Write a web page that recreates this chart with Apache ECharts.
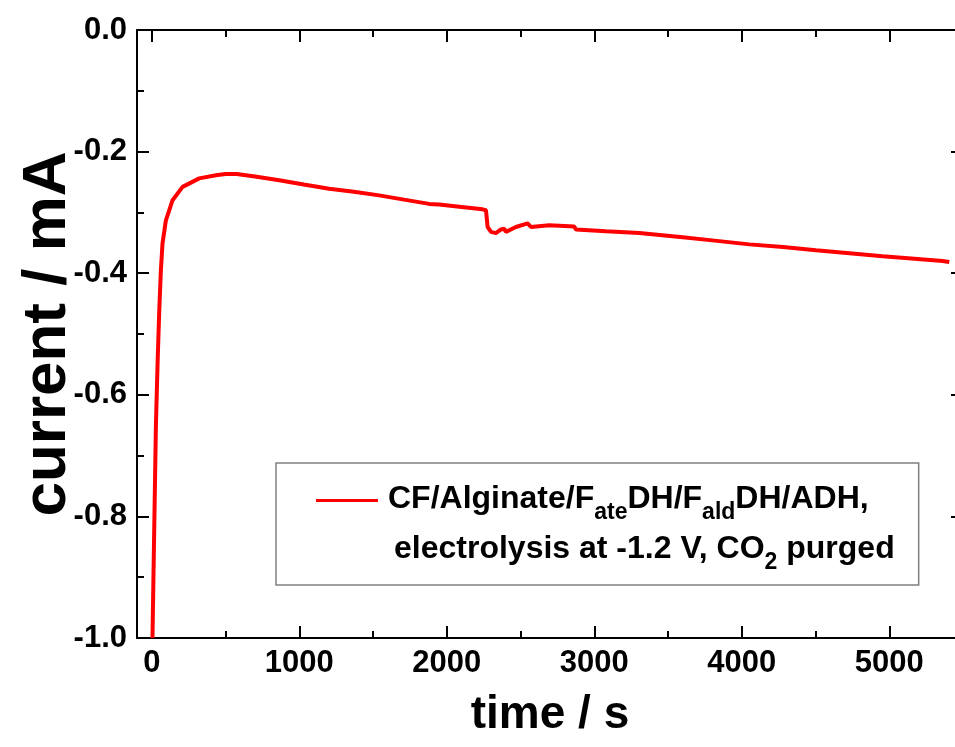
<!DOCTYPE html>
<html lang="en">
<head>
    <meta charset="UTF-8">
    <title>current vs time</title>
    <script src="https://cdn.jsdelivr.net/npm/echarts@6/dist/echarts.min.js"></script>
    <style>
        body { margin: 0; background: #fff; }
    </style>
</head>
<body>
<div id="main" style="width: 955px;height:747px;"></div>

<script type="text/javascript">
    // time (s) and current (mA)
    var times = [5, 17, 28, 40, 51, 62, 73, 96, 141, 209, 322, 435, 500, 575, 700, 864, 1030, 1203, 1370, 1542,
        1710, 1881, 1949, 2100, 2243, 2266, 2277, 2300, 2333, 2367, 2390, 2401, 2469, 2548, 2571, 2695,
        2864, 2876, 3079, 3305, 3600, 3800, 4051, 4280, 4503, 4730, 4955, 5150, 5362, 5407];
    var currents = [-1.0, -0.818, -0.653, -0.544, -0.461, -0.395, -0.351, -0.313, -0.280, -0.258, -0.244, -0.239,
        -0.237, -0.237, -0.241, -0.247, -0.254, -0.261, -0.266, -0.272, -0.279, -0.286, -0.287, -0.291,
        -0.295, -0.2965, -0.324, -0.332, -0.334, -0.328, -0.327, -0.332, -0.324, -0.318, -0.324, -0.321,
        -0.323, -0.328, -0.331, -0.334, -0.341, -0.346, -0.3526, -0.357, -0.3624, -0.367, -0.3723, -0.376, -0.380, -0.3817];

    var xMajorTicks = [0, 1000, 2000, 3000, 4000, 5000];
    var xMinorTicks = [500, 1500, 2500, 3500, 4500];

    var seriesName = 'CF/Alginate/F{sub|ate}DH/F{sub|ald}DH/ADH,\n{ind|}electrolysis at -1.2 V, CO{sub|2} purged';

    var points = [];
    times.forEach(function (t, i) {
        points.push([t, currents[i]]);
    });

    var font = 'Liberation Sans, Arial, sans-serif';
    var black = '#000';

    function xAxisDef(pos, ticks, len, withLabel) {
        return {
            type: 'value',
            position: pos,
            min: -100,
            max: 5500,
            axisLine: { show: withLabel, onZero: false, lineStyle: { color: black, width: 2 } },
            axisTick: { show: true, inside: true, length: len, customValues: ticks,
                lineStyle: { color: black, width: 2 } },
            axisLabel: withLabel ? {
                show: true, customValues: ticks, margin: 10,
                fontSize: 31, fontWeight: 'bold', fontFamily: font, color: black,
                formatter: function (v) { return String(v); }
            } : { show: false },
            splitLine: { show: false }
        };
    }

    var bottomAxis = xAxisDef('bottom', xMajorTicks, 12, true);
    bottomAxis.name = 'time / s';
    bottomAxis.nameLocation = 'middle';
    bottomAxis.nameGap = 54;
    bottomAxis.nameMoveOverlap = false;
    bottomAxis.nameTextStyle = { fontSize: 46, fontWeight: 'bold', fontFamily: font, color: black };

    var topAxis = xAxisDef('top', xMajorTicks, 12, false);
    topAxis.axisLine = { show: true, onZero: false, lineStyle: { color: black, width: 2 } };

    function yAxisDef(pos, withLabel) {
        return {
            type: 'value',
            position: pos,
            min: -1.0,
            max: 0,
            interval: 0.2,
            axisLine: { show: true, onZero: false, lineStyle: { color: black, width: 2 } },
            axisTick: { show: true, inside: true, length: 12, lineStyle: { color: black, width: 2 } },
            minorTick: { show: true, splitNumber: 2, length: 7, lineStyle: { color: black, width: 2 } },
            axisLabel: withLabel ? {
                show: true, margin: 10,
                fontSize: 31, fontWeight: 'bold', fontFamily: font, color: black,
                formatter: function (v) { return v.toFixed(1); }
            } : { show: false },
            splitLine: { show: false },
            minorSplitLine: { show: false }
        };
    }

    var leftAxis = yAxisDef('left', true);
    leftAxis.name = 'current / mA';
    leftAxis.nameLocation = 'middle';
    leftAxis.nameGap = 58;
    leftAxis.nameMoveOverlap = false;
    leftAxis.nameTextStyle = { fontSize: 62, fontWeight: 'bold', fontFamily: font, color: black };

    var myChart = echarts.init(document.getElementById('main'));
    var option = {
        animation: false,
        backgroundColor: '#fff',
        // right edge of the frame sits just outside the picture
        grid: { left: 137, top: 30, width: 826, height: 608, containLabel: false, outerBoundsMode: 'none' },
        xAxis: [
            bottomAxis,
            xAxisDef('bottom', xMinorTicks, 7, false),
            topAxis,
            xAxisDef('top', xMinorTicks, 7, false)
        ],
        yAxis: [leftAxis, yAxisDef('right', false)],
        legend: {
            show: true,
            left: 276,
            top: 463,
            orient: 'vertical',
            padding: [11, 24, 11, 40],
            borderColor: '#808080',
            borderWidth: 1.5,
            selectedMode: false,
            itemWidth: 67,
            itemHeight: 50,
            symbolKeepAspect: false,
            icon: 'path://M0,0H62V3H0Z M0,50H67V50H0Z',
            textStyle: {
                fontSize: 32, fontWeight: 'bold', fontFamily: font, color: black, lineHeight: 50,
                rich: {
                    sub: { fontSize: 23, fontWeight: 'bold', fontFamily: font, color: black,
                        verticalAlign: 'bottom', lineHeight: 38 },
                    ind: { width: 6 }
                }
            },
            data: [seriesName]
        },
        series: [
            {
                name: seriesName,
                type: 'line',
                showSymbol: false,
                symbol: 'none',
                smooth: false,
                clip: true,
                color: '#ff0000',
                lineStyle: { color: '#ff0000', width: 4 },
                data: points
            }
        ]
    };
    myChart.setOption(option);
</script>
</body>
</html>
